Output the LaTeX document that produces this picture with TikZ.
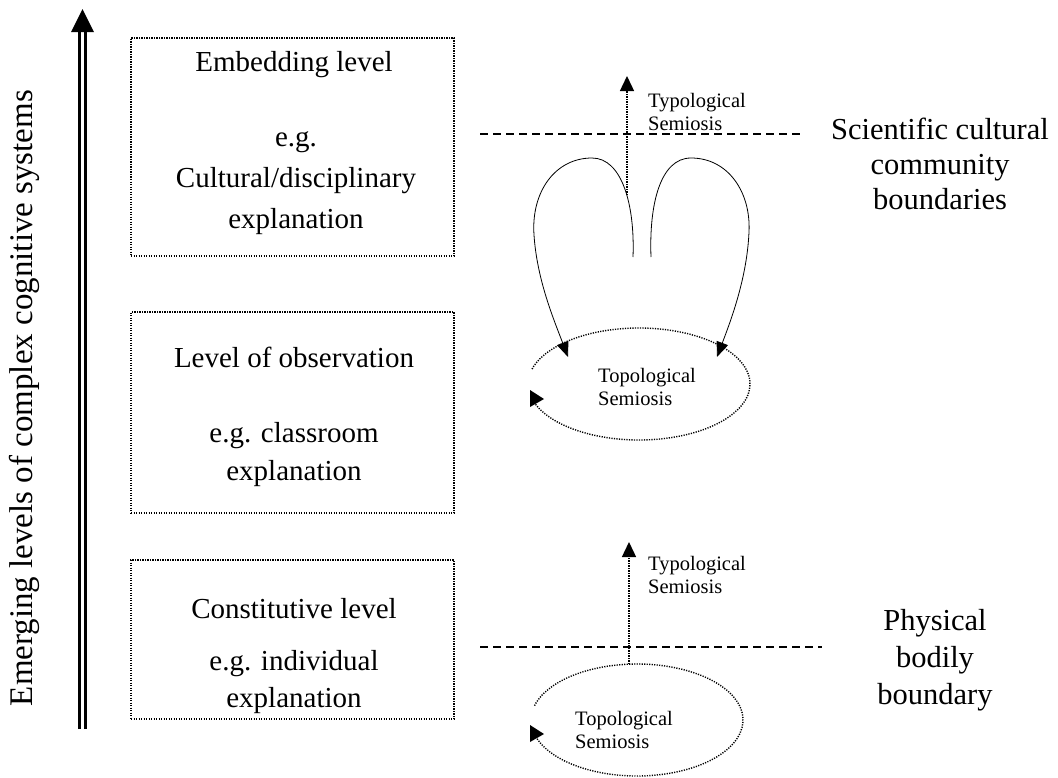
\documentclass[tikz,border=0pt]{standalone}
\usepackage{fontspec}
\setmainfont{Liberation Serif}
\usetikzlibrary{arrows.meta}

\tikzset{
  lvlbox/.style={draw=black, line width=1.4pt, dash pattern=on 1.3pt off 1.2pt, inner sep=0pt},
  bigtext/.style={font=\fontsize{29}{40}\selectfont, align=center, inner sep=0pt},
  sidetext/.style={font=\fontsize{30.5}{37}\selectfont, align=center, inner sep=0pt},
  smalltext/.style={font=\fontsize{20.5}{23}\selectfont, align=left, inner sep=0pt, anchor=base west},
  boundary/.style={line width=1.3pt, dash pattern=on 8pt off 5pt},
  semiloop/.style={line width=1.4pt, dash pattern=on 1.2pt off 1.3pt},
  typoarrow/.style={line width=1.4pt, dash pattern=on 1.2pt off 1.3pt, -{Triangle[length=15pt,width=14pt]}},
  lobe/.style={line width=0.8pt, -{Triangle[length=15pt,width=12pt]}},
  tri/.style={fill=black, draw=none}
}

\begin{document}
\begin{tikzpicture}[x=1pt, y=-1pt]
\useasboundingbox (0,0) rectangle (1058,777);

% emergence axis: double shaft with a solid head
\coordinate (axbot) at (82.3,729);
\coordinate (axtop) at (82.3,31);
\draw[line width=3pt] ([xshift=-2.7pt]axbot) -- ([xshift=-2.7pt]axtop);
\draw[line width=3pt] ([xshift=2.7pt]axbot) -- ([xshift=2.7pt]axtop);
\fill (82.5,9) -- (94,32) -- (71,32) -- cycle;
\node[rotate=90, font=\fontsize{33}{36}\selectfont, inner sep=0pt] (axlabel) at (24,398)
  {Emerging levels of complex cognitive systems};

% the three levels
\node[lvlbox, minimum width=323pt, minimum height=218pt] (emb) at (292.5,147) {};
\node[lvlbox, minimum width=323pt, minimum height=201pt] (obs) at (292.5,412.5) {};
\node[lvlbox, minimum width=323pt, minimum height=159pt] (con) at (292.5,639.5) {};

% (multi-line nodes are placed by the baseline of their last line)
\node[bigtext, anchor=base] (embT) at (294,71) {Embedding level};
\node[bigtext, anchor=base] (embE) at (296,228) {e.g.\\[1pt]Cultural/disciplinary\\[1pt]explanation};
\node[bigtext, anchor=base] (obsT) at (294,367) {Level of observation};
\node[bigtext, anchor=base] (obsE) at (294,480) {e.g. classroom\\[-2pt]explanation};
\node[bigtext, anchor=base] (conT) at (294,618) {Constitutive level};
\node[bigtext, anchor=base] (conE) at (294,707) {e.g. individual\\[-3pt]explanation};

% boundaries
\coordinate (b1w) at (480,134);
\coordinate (b1e) at (800,134);
\draw[boundary] (b1w) -- (b1e);
\coordinate (b2w) at (480,647);
\coordinate (b2e) at (822,647);
\draw[boundary] (b2w) -- (b2e);

\node[sidetext, anchor=base] (sci) at (940,209) {Scientific cultural\\[-2pt]community\\[-2pt]boundaries};
\node[sidetext, anchor=base] (phy) at (935,704) {Physical\\bodily\\boundary};

% upper topological loop
\draw[semiloop] (639,384) ++(194.5:111pt and 56pt)
  arc[start angle=194.5, end angle=525.5, x radius=111pt, y radius=56pt];
\fill[tri] (530,390) -- (544,399) -- (530,407) -- cycle;
\node[smalltext] (topo1) at (598,405) {Topological\\Semiosis};

% lobes feeding back into the loop
\coordinate (lobeL) at (633,257);
\coordinate (lobeR) at (651,257);
\coordinate (tipL) at (568,357);
\coordinate (tipR) at (717,357);
\draw[lobe] (lobeL) .. controls (635,205) and (622,158) .. (592,158)
  .. controls (555,158) and (531,192) .. (534,235)
  .. controls (537,280) and (554,320) .. (tipL);
\draw[lobe] (lobeR) .. controls (649,205) and (660,158) .. (691,158)
  .. controls (728,158) and (751,192) .. (749,232)
  .. controls (747,278) and (731,320) .. (tipR);

% upper typological arrow
\coordinate (t1s) at (627,195);
\coordinate (t1e) at (627,76);
\draw[typoarrow] (t1s) -- (t1e);
\node[smalltext] (typo1) at (648,130) {Typological\\Semiosis};

% lower topological loop
\draw[semiloop] (637,720) ++(195:106pt and 56pt)
  arc[start angle=195, end angle=526, x radius=106pt, y radius=56pt];
\fill[tri] (530,725) -- (544,734) -- (530,742) -- cycle;
\node[smalltext] (topo2) at (575,748) {Topological\\Semiosis};

% lower typological arrow
\coordinate (t2s) at (629,664);
\coordinate (t2e) at (629,542);
\draw[typoarrow] (t2s) -- (t2e);
\node[smalltext] (typo2) at (648,593) {Typological\\Semiosis};
\end{tikzpicture}
\end{document}
